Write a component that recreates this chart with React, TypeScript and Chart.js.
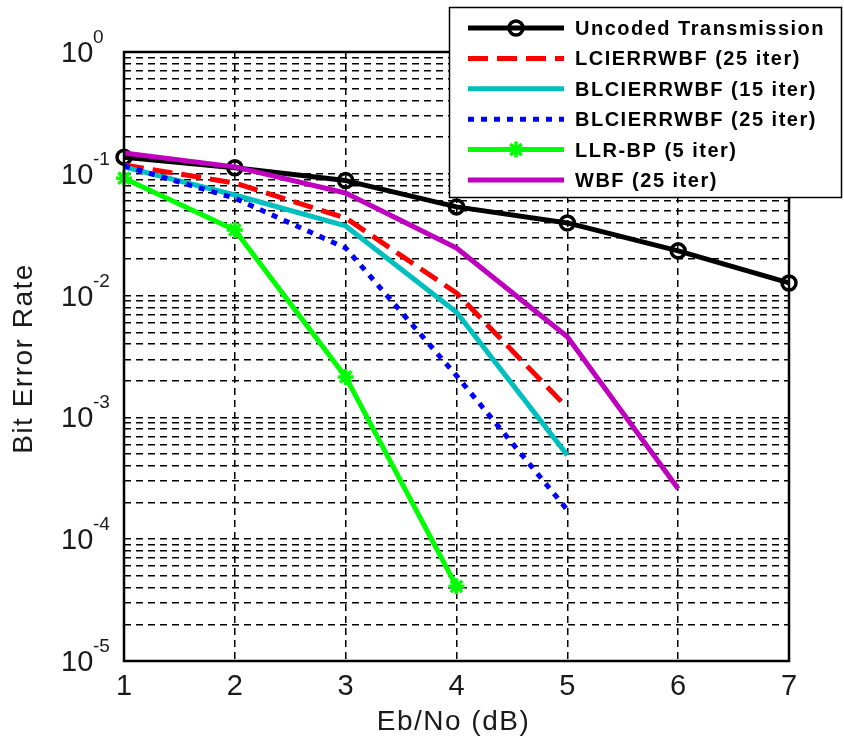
import React, { useEffect, useRef } from "react";
import { Chart, registerables } from "chart.js";

Chart.register(...registerables);

// ---- data ----
const ebNo = [1, 2, 3, 4, 5, 6, 7];
const xTickLabels = ["1", "2", "3", "4", "5", "6", "7"];
const yDecadeExponents = [0, -1, -2, -3, -4, -5];
const minorMultipliers = [1, 2, 3, 4, 5, 6, 7, 8, 9];

const uncoded = [0.137, 0.112, 0.088, 0.0535, 0.0395, 0.0233, 0.0127];
const lcierrwbf25 = [0.118, 0.084, 0.0434, 0.0105, 0.0012];
const blcierrwbf15 = [0.114, 0.067, 0.0373, 0.0073, 0.00049];
const blcierrwbf25 = [0.116, 0.063, 0.0246, 0.0022, 0.000174];
const llrbp5 = [0.092, 0.0346, 0.00215, 0.000041];
const wbf25 = [0.148, 0.114, 0.0695, 0.0246, 0.0046, 0.00026];

const seriesNames = [
  "Uncoded Transmission",
  "LCIERRWBF (25 iter)",
  "BLCIERRWBF (15 iter)",
  "BLCIERRWBF (25 iter)",
  "LLR-BP (5 iter)",
  "WBF (25 iter)",
];

const FONT = '"Liberation Sans", Arial, sans-serif';

type Style = {
  color: string;
  width: number;
  dash: number[];
  marker: "circle" | "star" | null;
};

const styles: Style[] = [
  { color: "#000000", width: 5, dash: [], marker: "circle" },
  { color: "#ff0000", width: 5, dash: [20, 9], marker: null },
  { color: "#00bfbf", width: 5, dash: [], marker: null },
  { color: "#0000ff", width: 5, dash: [6, 7], marker: null },
  { color: "#00ff00", width: 5, dash: [], marker: "star" },
  { color: "#bf00bf", width: 5, dash: [], marker: null },
];

const seriesValues = [uncoded, lcierrwbf25, blcierrwbf15, blcierrwbf25, llrbp5, wbf25];

function drawMarker(ctx: CanvasRenderingContext2D, kind: string, x: number, y: number, color: string) {
  ctx.save();
  ctx.setLineDash([]);
  ctx.strokeStyle = color;
  ctx.fillStyle = color;
  if (kind === "circle") {
    ctx.lineWidth = 3.5;
    ctx.beginPath();
    ctx.arc(x, y, 7, 0, Math.PI * 2);
    ctx.stroke();
  } else if (kind === "star") {
    ctx.lineWidth = 3.5;
    const r = 8;
    ctx.beginPath();
    for (let i = 0; i < 4; i++) {
      const a = (i * Math.PI) / 4;
      ctx.moveTo(x - r * Math.cos(a), y - r * Math.sin(a));
      ctx.lineTo(x + r * Math.cos(a), y + r * Math.sin(a));
    }
    ctx.stroke();
  }
  ctx.restore();
}

const decorPlugin = {
  id: "decor",
  afterDraw(chart: any) {
    const { ctx, chartArea: ca, scales } = chart;
    const xs = scales.x;
    const ys = scales.y;
    ctx.save();
    // frame
    ctx.setLineDash([]);
    ctx.strokeStyle = "#000";
    ctx.lineWidth = 2.5;
    ctx.strokeRect(ca.left, ca.top, ca.right - ca.left, ca.bottom - ca.top);

    ctx.fillStyle = "#1a1a1a";
    // y tick labels
    for (const e of yDecadeExponents) {
      const y = ys.getPixelForValue(Math.pow(10, e));
      ctx.font = `29px ${FONT}`;
      ctx.textAlign = "left";
      ctx.textBaseline = "alphabetic";
      ctx.fillText("10", 61, y + 10);
      ctx.font = `19px ${FONT}`;
      ctx.fillText(String(e), 93, y - 9);
    }
    // x tick labels
    ctx.font = `29px ${FONT}`;
    ctx.textAlign = "center";
    ebNo.forEach((v, i) => {
      ctx.fillText(xTickLabels[i], xs.getPixelForValue(v), ca.bottom + 34);
    });
    // x title
    ctx.font = `28px ${FONT}`;
    (ctx as any).letterSpacing = "1.5px";
    ctx.fillText("Eb/No (dB)", (ca.left + ca.right) / 2 - 3, 730);
    // y title
    ctx.save();
    ctx.translate(32, (ca.top + ca.bottom) / 2 + 2);
    ctx.rotate(-Math.PI / 2);
    ctx.textAlign = "center";
    ctx.fillText("Bit Error Rate", 0, 0);
    ctx.restore();
    (ctx as any).letterSpacing = "0px";

    // legend
    const lx = 449.5, ly = 7.5, lw = 392, lh = 190;
    ctx.fillStyle = "#fff";
    ctx.fillRect(lx, ly, lw, lh);
    ctx.strokeStyle = "#000";
    ctx.lineWidth = 1.5;
    ctx.strokeRect(lx, ly, lw, lh);
    seriesNames.forEach((name, i) => {
      const st = styles[i];
      const y = 28 + i * 30.4;
      ctx.save();
      ctx.strokeStyle = st.color;
      ctx.lineWidth = st.width;
      ctx.setLineDash(st.dash);
      ctx.lineCap = "butt";
      ctx.beginPath();
      ctx.moveTo(468, y);
      ctx.lineTo(564, y);
      ctx.stroke();
      ctx.restore();
      if (st.marker) drawMarker(ctx, st.marker, 516, y, st.color);
      ctx.fillStyle = "#000";
      ctx.font = `bold 20px ${FONT}`;
      ctx.textAlign = "left";
      ctx.textBaseline = "alphabetic";
      (ctx as any).letterSpacing = "1.5px";
      ctx.fillText(name, 575, y + 7);
      (ctx as any).letterSpacing = "0px";
    });
    ctx.restore();
  },
};

export default function App() {
  const ref = useRef<HTMLCanvasElement>(null);
  useEffect(() => {
    document.body.style.margin = "0";
    const canvas = ref.current!;
    const yTicks: number[] = [];
    for (const e of yDecadeExponents) {
      if (e === 0) {
        yTicks.push(1);
        continue;
      }
      for (const m of minorMultipliers) yTicks.push(m * Math.pow(10, e));
    }
    const datasets = seriesValues.map((vals, i) => {
      const st = styles[i];
      return {
        label: seriesNames[i],
        data: vals.map((v, j) => ({ x: ebNo[j], y: v })),
        borderColor: st.color,
        backgroundColor: st.color,
        borderWidth: st.width,
        borderDash: st.dash,
        borderCapStyle: "butt" as const,
        borderJoinStyle: "round" as const,
        pointRadius: st.marker ? (st.marker === "circle" ? 7 : 8) : 0,
        pointStyle: st.marker === "circle" ? "circle" : "star",
        pointBorderWidth: 3.5,
        pointBorderColor: st.color,
        pointBackgroundColor: "rgba(0,0,0,0)",
        tension: 0,
        clip: false as any,
        order: seriesValues.length - i,
      };
    });
    const chart = new Chart(canvas, {
      type: "line",
      data: { datasets },
      options: {
        responsive: false,
        animation: false,
        layout: { padding: { left: 124, top: 52, right: 55, bottom: 77 } },
        plugins: { legend: { display: false }, tooltip: { enabled: false } },
        scales: {
          x: {
            type: "linear",
            min: 1,
            max: 7,
            afterBuildTicks: (s: any) => {
              s.ticks = ebNo.map((v) => ({ value: v }));
            },
            afterFit: (s: any) => {
              s.height = 0;
            },
            ticks: { display: false },
            grid: { color: "#000", lineWidth: 1.5, drawTicks: false },
            border: { display: false, dash: [7, 5] },
          },
          y: {
            type: "logarithmic",
            min: 1e-5,
            max: 1,
            afterBuildTicks: (s: any) => {
              s.ticks = yTicks.map((v) => ({ value: v }));
            },
            afterFit: (s: any) => {
              s.width = 0;
            },
            ticks: { display: false },
            grid: { color: "#000", lineWidth: 1.5, drawTicks: false },
            border: { display: false, dash: [7, 5] },
          },
        },
      },
      plugins: [decorPlugin],
    });
    return () => chart.destroy();
  }, []);
  return (
    <div style={{ position: "absolute", left: 0, top: 0, width: 844, height: 738, background: "#fff" }}>
      <canvas ref={ref} width={844} height={738} style={{ display: "block", width: 844, height: 738 }} />
    </div>
  );
}
